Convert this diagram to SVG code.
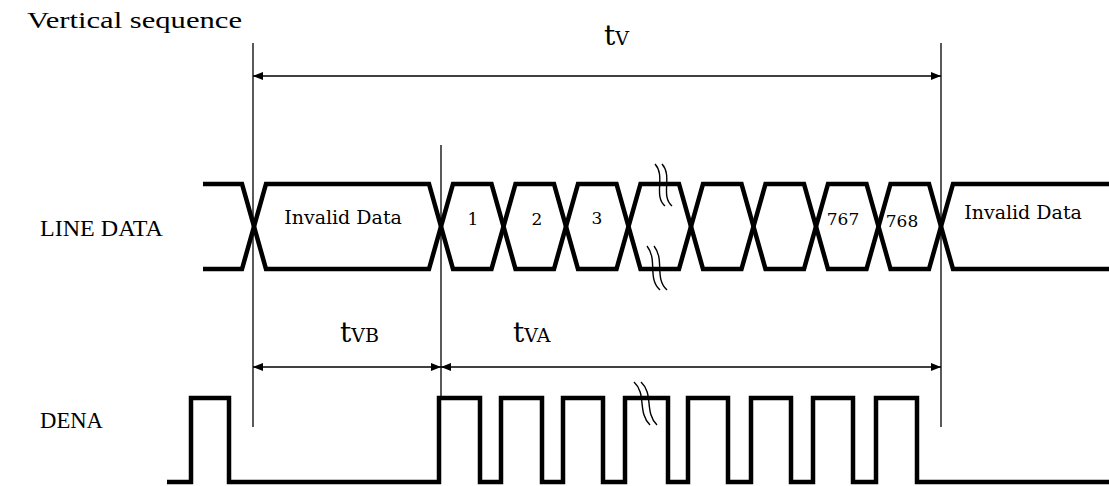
<svg xmlns="http://www.w3.org/2000/svg" width="1109" height="486" viewBox="0 0 1109 486">
<style>
  .sig { fill: none; stroke: #000; stroke-width: 4.5; stroke-linejoin: miter; stroke-linecap: butt; }
  .thin { fill: none; stroke: #000; stroke-width: 1.3; }
  .brk { fill: none; stroke: #000; stroke-width: 1.4; }
  .dim { fill: none; stroke: #000; stroke-width: 1.6; marker-start: url(#ah); marker-end: url(#ah); }
  .lbl { font-family: "Liberation Serif", "Times New Roman", serif; font-size: 23px; fill: #000; }
  .dat { font-family: "DejaVu Serif", "Liberation Serif", serif; font-size: 19px; fill: #000; }
  .num { font-family: "DejaVu Serif", "Liberation Serif", serif; font-size: 17px; fill: #000; text-anchor: middle; }
  .t { font-family: "DejaVu Serif", "Liberation Serif", serif; font-size: 28px; fill: #000; }
  .sub { font-size: 19px; }
</style>
<defs>
  <marker id="ah" viewBox="0 0 10 8" refX="10" refY="4" markerWidth="10" markerHeight="8" markerUnits="userSpaceOnUse" orient="auto-start-reverse">
    <path d="M0,0 L10,4 L0,8 z" fill="#000"/>
  </marker>
</defs>
<rect width="1109" height="486" fill="#fff"/>

<g id="labels">
  <text class="lbl" x="27" y="28" font-size="24" textLength="215" lengthAdjust="spacingAndGlyphs">Vertical sequence</text>
  <text class="lbl" x="40" y="236" textLength="123" lengthAdjust="spacingAndGlyphs">LINE DATA</text>
  <text class="lbl" x="40" y="428" textLength="63" lengthAdjust="spacingAndGlyphs">DENA</text>
</g>

<g id="line-data">
  <polyline class="sig" points="203,184 242,184 266,269 429,269 453,184 491.5,184 515.5,269 554,269 578,184 616.5,184 640.5,269 679,269 703,184 741.5,184 765.5,269 804,269 828,184 866.5,184 890.5,269 929,269 953,184 1109,184"/>
  <polyline class="sig" points="203,269 242,269 266,184 429,184 453,269 491.5,269 515.5,184 554,184 578,269 616.5,269 640.5,184 679,184 703,269 741.5,269 765.5,184 804,184 828,269 866.5,269 890.5,184 929,184 953,269 1109,269"/>
  <text class="dat" x="343" y="224" text-anchor="middle">Invalid Data</text>
  <text class="num" x="473" y="225">1</text>
  <text class="num" x="537" y="225">2</text>
  <text class="num" x="597" y="224">3</text>
  <text class="num" x="843" y="225">767</text>
  <text class="num" x="902" y="227">768</text>
  <text class="dat" x="1023" y="219" text-anchor="middle">Invalid Data</text>
</g>

<g id="dena">
  <path class="sig" d="M167,482 H191 V398 H229 V482 H439 V398 H480 V482 H501 V398 H542 V482 H563 V398 H603 V482 H625 V398 H668 V482 H688 V398 H728 V482 H751 V398 H791 V482 H813 V398 H853 V482 H876 V398 H917 V482 H1109"/>
</g>

<g id="breaks">
  <path class="brk" d="M655,164 C666,176 653,196 665,206"/>
  <path class="brk" d="M662,164 C673,176 660,196 672,206"/>
  <path class="brk" d="M647,246 C658,260 647,278 660,290"/>
  <path class="brk" d="M654,246 C665,260 654,278 667,290"/>
  <path class="brk" d="M634,382 C647,394 637,412 650,425"/>
  <path class="brk" d="M641,382 C654,394 644,412 657,425"/>
</g>

<g id="connectors">
  <line class="thin" x1="253" y1="43" x2="253" y2="427"/>
  <line class="thin" x1="941" y1="43" x2="941" y2="427"/>
  <line class="thin" x1="441" y1="145" x2="441" y2="398"/>
  <line class="dim" x1="253" y1="76" x2="941" y2="76"/>
  <line class="dim" x1="253" y1="367" x2="441" y2="367"/>
  <line class="dim" x1="441" y1="367" x2="941" y2="367"/>
</g>

<g id="dim-labels">
  <text class="t" x="604" y="45">t<tspan class="sub">V</tspan></text>
  <text class="t" x="340" y="342">t<tspan class="sub">VB</tspan></text>
  <text class="t" x="513" y="342">t<tspan class="sub">VA</tspan></text>
</g>
</svg>
